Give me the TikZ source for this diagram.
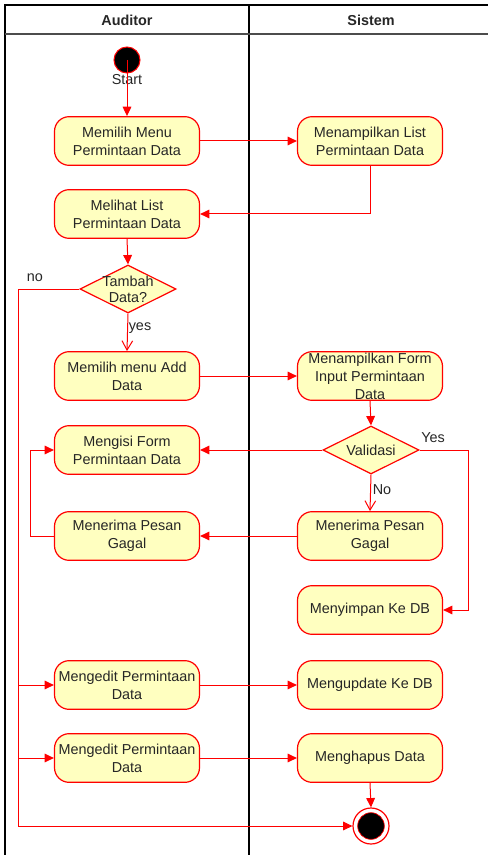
\documentclass[tikz,border=0pt]{standalone}
\usepackage{fontspec}
\setmainfont{Liberation Sans}
\usetikzlibrary{arrows.meta,shapes.geometric}
\definecolor{actred}{HTML}{FF0000}
\definecolor{actfill}{HTML}{FFFFC0}
\definecolor{txt}{HTML}{262626}
\begin{document}
\begin{tikzpicture}[x=0.75pt,y=-0.75pt,
  every node/.style={font=\fontsize{10.8}{13.5}\selectfont, text=txt, align=center},
  activity/.style={draw=actred, line width=0.9pt, fill=actfill, rounded corners=11pt,
    minimum width=108.75pt, minimum height=36.5pt, inner sep=0pt, align=center},
  decision/.style={diamond, draw=actred, line width=0.9pt, fill=actfill,
    minimum width=72pt, minimum height=36pt, inner sep=0pt, aspect=2},
  flow/.style={draw=actred, line width=0.75pt, -{Triangle[length=7pt,width=6.5pt]}},
  openflow/.style={draw=actred, line width=0.75pt, -{Straight Barb[length=7pt,width=8pt]}},
  plainflow/.style={draw=actred, line width=0.75pt},
  lane/.style={draw=black, line width=0.8pt},
  lanehead/.style={font=\bfseries\fontsize{10.8}{13.5}\selectfont, text=txt}]
\useasboundingbox (0,0) rectangle (488,855);

% swimlanes
\draw[lane] (5,870) -- (5,5) -- (500,5);
\draw[lane] (249,5) -- (249,870);
\draw[draw=black!70, line width=1.3pt] (5,34) -- (500,34);
\node[lanehead] (hAud) at (127,20) {Auditor};
\node[lanehead] (hSys) at (371,20) {Sistem};

% start
\node[circle, fill=black, draw=actred, line width=0.8pt, minimum size=19.5pt, inner sep=0pt] (start) at (127,60) {};
\node (startlbl) at (127,80) {Start};

% activities
\node[activity] (a1) at (127,141) {Memilih Menu\\Permintaan Data};
\node[activity] (s1) at (370,141) {Menampilkan List\\Permintaan Data};
\node[activity] (a2) at (127,214) {Melihat List\\Permintaan Data};
\node[decision] (d1) at (128,289) {};
\node (d1t) at (128,289) {Tambah\\[-1.5pt]Data?};
\node[activity] (a3) at (127,376) {Memilih menu Add\\Data};
\node[activity] (s2) at (370,376) {Menampilkan Form\\Input Permintaan\\Data};
\node[decision] (d2) at (371,450) {};
\node (d2t) at (371,450) {Validasi};
\node[activity] (a4) at (127,450) {Mengisi Form\\Permintaan Data};
\node[activity] (s3) at (370,536) {Menerima Pesan\\Gagal};
\node[activity] (af) at (127,536) {Menerima Pesan\\Gagal};
\node[activity] (s4) at (370,610) {Menyimpan Ke DB};
\node[activity] (a5) at (127,685) {Mengedit Permintaan\\Data};
\node[activity] (s5) at (370,685) {Mengupdate Ke DB};
\node[activity] (a6) at (127,758) {Mengedit Permintaan\\Data};
\node[activity] (s6) at (370,758) {Menghapus Data};

% end
\node[circle, draw=actred, line width=0.9pt, fill=white, minimum size=27pt, inner sep=0pt] (end) at (371,826) {};
\fill[black, draw=actred, line width=0.5pt] (end.center) circle (10pt);

% routing points
\coordinate (noTop) at (18,289);
\coordinate (noBot) at (18,826);
\coordinate (noA5) at (18,685);
\coordinate (noA6) at (18,758);
\coordinate (yesR) at (468,450);
\coordinate (failL) at (30,536);

% connectors
\draw[flow] (start.center) -- (a1.north);
\draw[flow] (a1.east) -- (s1.west);
\draw[flow] (s1.south) |- (a2.east);
\draw[flow] (a2.south) -- (d1.north);
\draw[plainflow] (d1.west) -- (noTop) -- (noBot);
\draw[flow] (noBot) -- (end.west);
\draw[flow] (noA5) -- (a5.west);
\draw[flow] (noA6) -- (a6.west);
\node (nolbl) at (35,278) {no};
\draw[openflow] (d1.south) -- (a3.north);
\node (yeslbl) at (140,328) {yes};
\draw[flow] (a3.east) -- (s2.west);
\draw[flow] (s2.south) -- (d2.north);
\draw[flow] (d2.west) -- (a4.east);
\draw[plainflow] (d2.east) -- (yesR);
\draw[flow] (yesR) |- (s4.east);
\node (yeslbl2) at (433,438) {Yes};
\draw[openflow] (d2.south) -- (s3.north);
\node (nolbl2) at (382,490) {No};
\draw[flow] (s3.west) -- (af.east);
\draw[plainflow] (af.west) -- (failL);
\draw[flow] (failL) |- (a4.west);
\draw[flow] (a5.east) -- (s5.west);
\draw[flow] (a6.east) -- (s6.west);
\draw[flow] (s6.south) -- (end.north);
\end{tikzpicture}
\end{document}
